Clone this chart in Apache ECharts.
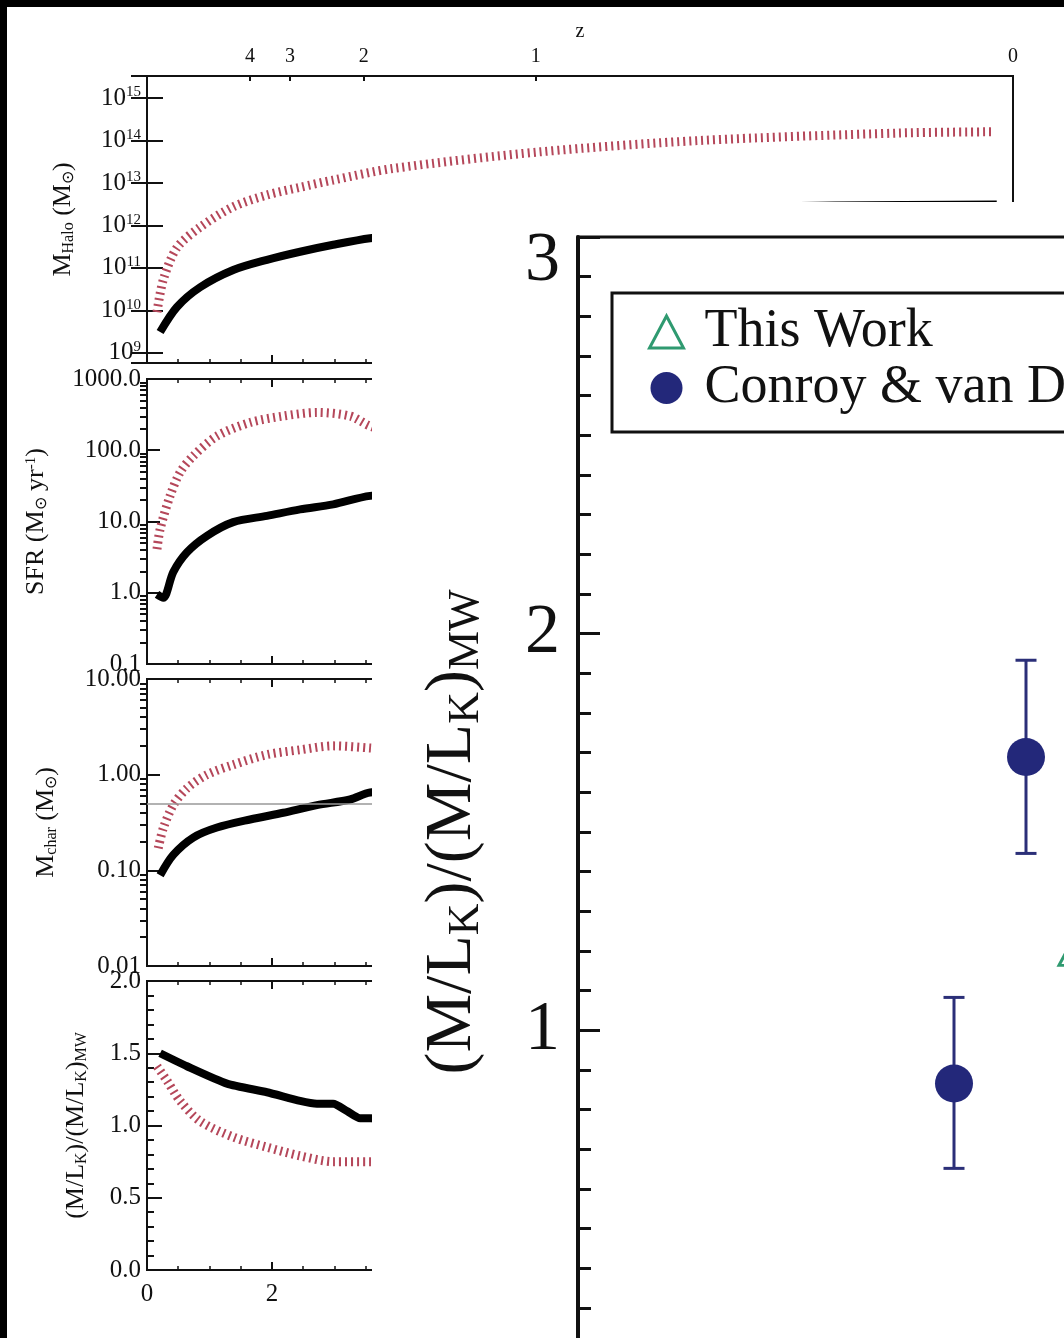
<!DOCTYPE html>
<html>
<head>
<meta charset="utf-8">
<script src="https://cdn.jsdelivr.net/npm/echarts@6/dist/echarts.min.js"></script>
<style>
  html, body { margin: 0; padding: 0; background: #fff; }
  #chart { width: 1064px; height: 1338px; }
</style>
</head>
<body>
<div id="chart"></div>
<script>
// ---- left figure: cosmic time (Gyr) on x ----
const tMax = 13.86;
const zLabels = ['4', '3', '2', '1', '0'];
const zAge = [1.65, 2.29, 3.47, 6.22, 13.86];

// halo mass
const haloT = [0.21, 0.48, 0.85, 1.38, 1.92, 2.45, 2.98, 3.57, 4.5, 6, 7.5, 9, 11, 13.6];
const haloM = [3.1e9, 1.2e10, 3.5e10, 8.9e10, 1.55e11, 2.4e11, 3.5e11, 5.0e11, 7e11, 1.1e12, 1.8e12, 2.6e12, 2.95e12, 3.1e12];
const haloRedT = [0.16, 0.26, 0.48, 0.85, 1.38, 1.92, 2.45, 2.98, 3.94, 6.29, 8.85, 12.05, 13.52];
const haloRedM = [9.1e9, 5.2e10, 3.0e11, 9.1e11, 2.75e12, 5.2e12, 7.9e12, 1.17e13, 2.2e13, 5.4e13, 1.0e14, 1.5e14, 1.6e14];

// star formation rate
const sfrT = [0.16, 0.26, 0.42, 0.64, 0.96, 1.38, 1.92, 2.45, 2.98, 3.57, 5, 7, 9, 11, 13.6];
const sfrV = [0.95, 0.85, 1.95, 3.7, 6.3, 9.8, 12, 14.8, 17.4, 22.9, 28, 27, 22, 16, 11];
const sfrRedT = [0.16, 0.21, 0.37, 0.53, 0.74, 1.12, 1.65, 2.18, 2.72, 3.25, 3.57, 4.5, 6, 8, 10.5, 13.5];
const sfrRedV = [4.1, 7.8, 23, 49, 83, 158, 245, 302, 339, 302, 219, 120, 60, 30, 15, 8];

// characteristic mass
const mcharT = [0.21, 0.42, 0.74, 1.12, 1.65, 2.18, 2.72, 3.25, 3.57, 5, 7, 10, 13.6];
const mcharV = [0.089, 0.145, 0.22, 0.28, 0.34, 0.40, 0.48, 0.55, 0.65, 0.8, 0.95, 1.1, 1.2];
const mcharRedT = [0.18, 0.26, 0.42, 0.64, 0.96, 1.38, 1.92, 2.45, 2.98, 3.57, 5, 7, 10, 13.5];
const mcharRedV = [0.17, 0.275, 0.48, 0.72, 1.0, 1.27, 1.62, 1.82, 2.0, 1.9, 1.6, 1.2, 0.9, 0.7];
const mcharRef = 0.5;

// (M/L_K)/(M/L_K)_MW
const mlT = [0.21, 0.64, 1.28, 1.92, 2.45, 2.72, 2.98, 3.2, 3.41, 3.57, 5, 8, 11, 13.6];
const mlV = [1.50, 1.41, 1.29, 1.23, 1.17, 1.15, 1.15, 1.10, 1.05, 1.05, 1.0, 0.95, 0.92, 0.9];
const mlRedT = [0.16, 0.32, 0.53, 0.85, 1.38, 1.92, 2.45, 2.98, 3.57, 5, 8, 11, 13.5];
const mlRedV = [1.41, 1.31, 1.17, 1.03, 0.92, 0.85, 0.79, 0.75, 0.75, 0.74, 0.72, 0.71, 0.7];

// ---- right figure ----
const cvdX = [0.94, 1.12];
const cvdY = [0.866, 1.689];
const cvdLow = [0.652, 1.446];
const cvdHigh = [1.083, 1.933];
const workX = [1.245];
const workY = [1.204];

function zip(a, b) { return a.map((v, i) => [v, b[i]]); }
function logMinor(lo, hi) {
  const out = [];
  for (let d = lo; d < hi; d *= 10) for (let k = 2; k <= 9; k++) out.push(+(d * k).toPrecision(3));
  return out;
}

const FONT = 'Liberation Serif';
const INK = '#111';
const RED = '#b5475a';
const NAVY = '#23287a';

const subRich = {
  s: { fontFamily: FONT, fontSize: 16, color: INK, padding: [11, 0, 0, 0] },
  p: { fontFamily: FONT, fontSize: 15, color: INK, padding: [0, 0, 11, 0] }
};

const lineAx = { show: true, lineStyle: { color: INK, width: 2 } };

function bottomX(gi, showLabel) {
  return {
    gridIndex: gi, type: 'value', min: 0, max: tMax, interval: 2, position: 'bottom',
    axisLine: lineAx,
    axisTick: { inside: true, length: 8, lineStyle: { color: INK, width: 2 } },
    minorTick: { show: true, splitNumber: 4, length: 4, lineStyle: { color: INK, width: 1.5 } },
    axisLabel: { show: showLabel, fontFamily: FONT, fontSize: 25, color: INK, margin: 12, showMaxLabel: false },
    splitLine: { show: false }
  };
}
function topX(gi) {
  const a = bottomX(gi, false);
  a.position = 'top';
  return a;
}

const leftName = { fontFamily: FONT, fontSize: 26, color: INK, rich: subRich };
const panelGrid = { left: 147, width: 866, show: true, borderColor: INK, borderWidth: 2, outerBoundsMode: 'none' };

const option = {
  animation: false,
  backgroundColor: '#fff',
  textStyle: { fontFamily: FONT },
  grid: [
    Object.assign({ top: 76, height: 287 }, panelGrid),
    Object.assign({ top: 379, height: 285 }, panelGrid),
    Object.assign({ top: 679, height: 287 }, panelGrid),
    Object.assign({ top: 981, height: 289 }, panelGrid),
    { left: 578, width: 800, top: 237, height: 1190, show: true, borderColor: INK, borderWidth: 3, z: 110, outerBoundsMode: 'none' }
  ],
  xAxis: [
    bottomX(0, false), bottomX(1, false), bottomX(2, false), bottomX(3, true),
    {
      gridIndex: 0, type: 'value', min: 0, max: tMax, position: 'top',
      name: 'z', nameLocation: 'middle', nameGap: 34,
      nameTextStyle: { fontFamily: FONT, fontSize: 20, color: INK },
      axisLine: lineAx,
      axisTick: { inside: true, length: 5, customValues: zAge, lineStyle: { color: INK, width: 2 } },
      axisLabel: {
        customValues: zAge, fontFamily: FONT, fontSize: 20, color: INK, margin: 9,
        formatter: v => { const i = zAge.findIndex(a => Math.abs(a - v) < 1e-6); return i >= 0 ? zLabels[i] : ''; }
      },
      splitLine: { show: false }
    },
    topX(1), topX(2), topX(3),
    {
      gridIndex: 4, type: 'value', min: 0, max: 2, interval: 1, position: 'top', z: 110,
      axisLine: { show: true, lineStyle: { color: INK, width: 3 } },
      axisTick: { inside: true, length: 24, lineStyle: { color: INK, width: 3 } },
      minorTick: { show: true, splitNumber: 10, length: 11, lineStyle: { color: INK, width: 3 } },
      axisLabel: { show: false },
      splitLine: { show: false }
    }
  ],
  yAxis: [
    {
      gridIndex: 0, type: 'log', logBase: 10, min: 5.75e8, max: 3.3e15,
      axisLine: lineAx,
      axisTick: { inside: true, length: 16, lineStyle: { color: INK, width: 2 } },
      axisLabel: {
        fontFamily: FONT, fontSize: 25, color: INK, margin: 6, showMinLabel: false, showMaxLabel: false,
        formatter: v => '10{p|' + Math.round(Math.log10(v)) + '}', rich: subRich
      },
      splitLine: { show: false },
      name: 'M{s|Halo} (M{s|⊙})', nameLocation: 'middle', nameRotate: 90, nameGap: 70, nameTextStyle: leftName
    },
    {
      gridIndex: 1, type: 'log', logBase: 10, min: 0.1, max: 1000,
      axisLine: lineAx,
      axisTick: { inside: true, length: 13, lineStyle: { color: INK, width: 2 } },
      axisLabel: { fontFamily: FONT, fontSize: 25, color: INK, margin: 6, formatter: v => v.toFixed(1) },
      splitLine: { show: false },
      name: 'SFR (M{s|⊙} yr{p|-1})', nameLocation: 'middle', nameRotate: 90, nameGap: 97, nameTextStyle: leftName
    },
    {
      gridIndex: 2, type: 'log', logBase: 10, min: 0.01, max: 10,
      axisLine: lineAx,
      axisTick: { inside: true, length: 13, lineStyle: { color: INK, width: 2 } },
      axisLabel: { fontFamily: FONT, fontSize: 25, color: INK, margin: 6, formatter: v => v.toFixed(2) },
      splitLine: { show: false },
      name: 'M{s|char} (M{s|⊙})', nameLocation: 'middle', nameRotate: 90, nameGap: 87, nameTextStyle: leftName
    },
    {
      gridIndex: 3, type: 'value', min: 0, max: 2, interval: 0.5,
      axisLine: lineAx,
      axisTick: { inside: true, length: 15, lineStyle: { color: INK, width: 2 } },
      minorTick: { show: true, splitNumber: 5, length: 7, lineStyle: { color: INK, width: 2 } },
      axisLabel: { fontFamily: FONT, fontSize: 25, color: INK, margin: 6, formatter: v => v.toFixed(1) },
      splitLine: { show: false },
      name: '(M/L{s|K})/(M/L{s|K}){s|MW}', nameLocation: 'middle', nameRotate: 90, nameGap: 57, nameTextStyle: leftName
    },
    {
      gridIndex: 0, type: 'log', logBase: 10, min: 5.75e8, max: 3.3e15, position: 'right',
      axisLine: lineAx,
      axisTick: { inside: true, length: 16, lineStyle: { color: INK, width: 2 } },
      axisLabel: { show: false }, splitLine: { show: false }
    },
    {
      gridIndex: 1, type: 'log', logBase: 10, min: 0.1, max: 1000,
      axisLine: { show: false },
      axisTick: { inside: true, length: 7, customValues: logMinor(0.1, 1000), lineStyle: { color: INK, width: 2 } },
      axisLabel: { show: false }, splitLine: { show: false }
    },
    {
      gridIndex: 2, type: 'log', logBase: 10, min: 0.01, max: 10,
      axisLine: { show: false },
      axisTick: { inside: true, length: 7, customValues: logMinor(0.01, 10), lineStyle: { color: INK, width: 2 } },
      axisLabel: { show: false }, splitLine: { show: false }
    },
    {
      gridIndex: 4, type: 'value', min: 0, max: 3, interval: 1, z: 110,
      axisLine: { show: true, lineStyle: { color: INK, width: 4 } },
      axisTick: { inside: true, length: 22, lineStyle: { color: INK, width: 3 } },
      minorTick: { show: true, splitNumber: 10, length: 13, lineStyle: { color: INK, width: 3 } },
      axisLabel: {
        fontFamily: FONT, fontSize: 70, color: INK, margin: 18,
        formatter: v => v === 3 ? '{t|3}' : String(v),
        rich: { t: { fontFamily: FONT, fontSize: 70, color: INK, padding: [50, 0, 0, 0] } }
      },
      splitLine: { show: false },
      name: '(M/L{k|K})/(M/L{k|K}){k|MW}', nameLocation: 'middle', nameRotate: 90, nameGap: 90,
      nameTextStyle: {
        fontFamily: FONT, fontSize: 66, color: INK,
        rich: { k: { fontFamily: FONT, fontSize: 44, color: INK, padding: [26, 0, 0, 0] } }
      }
    }
  ],
  legend: {
    show: true, orient: 'vertical', left: 612, top: 293, z: 130,
    backgroundColor: '#fff', borderColor: INK, borderWidth: 3,
    padding: [11, 40, 16, 36], itemGap: 0, itemWidth: 34, itemHeight: 32,
    selectedMode: false,
    textStyle: { fontFamily: FONT, fontSize: 54, color: INK, lineHeight: 56, padding: [0, 0, 0, 16] },
    data: [
      { name: 'This Work', icon: 'triangle', itemStyle: { color: '#fff', borderColor: '#2f9a70', borderWidth: 3, opacity: 1 } },
      { name: 'Conroy & van Dokkum (2012)', icon: 'circle', itemStyle: { color: NAVY, opacity: 1 } }
    ]
  },
  graphic: {
    elements: [
      { type: 'rect', left: 372, top: 202, z: 100, shape: { width: 700, height: 1140 }, style: { fill: '#fff' } },
      { type: 'rect', left: 0, top: 0, z: 200, shape: { width: 1064, height: 7 }, style: { fill: '#000' } },
      { type: 'rect', left: 0, top: 0, z: 200, shape: { width: 7, height: 1338 }, style: { fill: '#000' } }
    ]
  },
  series: [
    { type: 'line', xAxisIndex: 0, yAxisIndex: 0, data: zip(haloRedT, haloRedM), showSymbol: false, smooth: 0.3,
      lineStyle: { color: RED, width: 9, type: [2, 4] } },
    { type: 'line', xAxisIndex: 0, yAxisIndex: 0, data: zip(haloT, haloM), showSymbol: false, smooth: 0.3,
      lineStyle: { color: '#000', width: 8 } },
    { type: 'line', xAxisIndex: 1, yAxisIndex: 1, data: zip(sfrRedT, sfrRedV), showSymbol: false, smooth: 0.3,
      lineStyle: { color: RED, width: 9, type: [2, 4] } },
    { type: 'line', xAxisIndex: 1, yAxisIndex: 1, data: zip(sfrT, sfrV), showSymbol: false, smooth: 0.3,
      lineStyle: { color: '#000', width: 8 } },
    { type: 'line', xAxisIndex: 2, yAxisIndex: 2, data: zip(mcharRedT, mcharRedV), showSymbol: false, smooth: 0.3,
      lineStyle: { color: RED, width: 9, type: [2, 4] },
      markLine: { silent: true, symbol: 'none', label: { show: false },
        lineStyle: { color: '#999', width: 1.5, type: 'solid' }, data: [{ yAxis: mcharRef }] } },
    { type: 'line', xAxisIndex: 2, yAxisIndex: 2, data: zip(mcharT, mcharV), showSymbol: false, smooth: 0.3,
      lineStyle: { color: '#000', width: 8 } },
    { type: 'line', xAxisIndex: 3, yAxisIndex: 3, data: zip(mlRedT, mlRedV), showSymbol: false, smooth: 0.3,
      lineStyle: { color: RED, width: 9, type: [2, 4] } },
    { type: 'line', xAxisIndex: 3, yAxisIndex: 3, data: zip(mlT, mlV), showSymbol: false, smooth: 0.2,
      lineStyle: { color: '#000', width: 8 } },
    {
      type: 'custom', xAxisIndex: 8, yAxisIndex: 7, z: 115,
      data: cvdX.map((x, i) => [x, cvdLow[i], cvdHigh[i]]),
      renderItem: (params, api) => {
        const lo = api.coord([api.value(0), api.value(1)]);
        const hi = api.coord([api.value(0), api.value(2)]);
        const st = { stroke: '#2b2f78', lineWidth: 3 };
        return {
          type: 'group',
          children: [
            { type: 'line', shape: { x1: lo[0], y1: lo[1], x2: hi[0], y2: hi[1] }, style: st },
            { type: 'line', shape: { x1: lo[0] - 10.5, y1: lo[1], x2: lo[0] + 10.5, y2: lo[1] }, style: st },
            { type: 'line', shape: { x1: hi[0] - 10.5, y1: hi[1], x2: hi[0] + 10.5, y2: hi[1] }, style: st }
          ]
        };
      }
    },
    { name: 'Conroy & van Dokkum (2012)', type: 'scatter', xAxisIndex: 8, yAxisIndex: 7, z: 120,
      symbol: 'circle', symbolSize: 38, itemStyle: { color: NAVY, opacity: 1 }, data: zip(cvdX, cvdY) },
    { name: 'This Work', type: 'scatter', xAxisIndex: 8, yAxisIndex: 7, z: 120,
      symbol: 'triangle', symbolSize: [34, 32], itemStyle: { color: '#fff', borderColor: '#2f9a70', borderWidth: 3, opacity: 1 },
      data: zip(workX, workY) }
  ]
};

const chart = echarts.init(document.getElementById('chart'));
chart.setOption(option);
</script>
</body>
</html>
